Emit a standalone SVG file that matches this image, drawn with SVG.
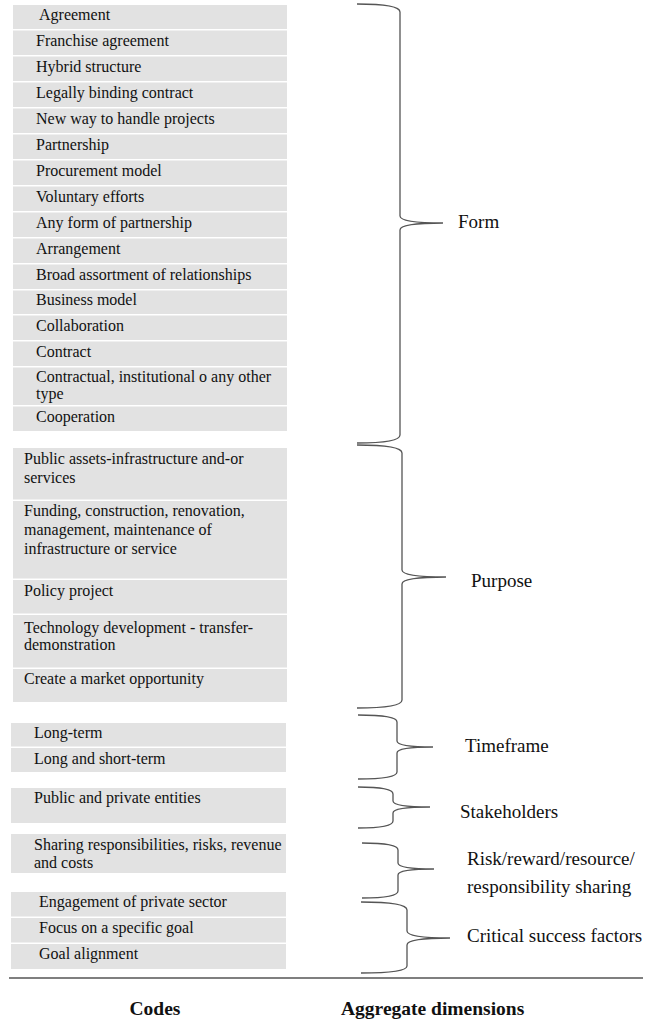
<svg xmlns="http://www.w3.org/2000/svg" width="662" height="1019" viewBox="0 0 662 1019">
<style>
.box{fill:#e2e2e2}
.t{font-family:"Liberation Serif","Times New Roman",serif;font-size:16px;fill:#111}
.lab{font-family:"Liberation Serif","Times New Roman",serif;font-size:19px;fill:#111}
.hd{font-family:"Liberation Serif","Times New Roman",serif;font-size:19.5px;font-weight:bold;fill:#111}
.br{fill:none;stroke:#555;stroke-width:1.3}
</style>
<rect width="662" height="1019" fill="#fff"/>
<g id="codes-form">
<g id="c1"><rect class="box" x="13" y="5" width="274" height="24"/><text class="t" x="39" y="20">Agreement</text></g>
<g id="c2"><rect class="box" x="13" y="30.5" width="274" height="24.5"/><text class="t" x="36" y="46">Franchise agreement</text></g>
<g id="c3"><rect class="box" x="13" y="56.5" width="274" height="24.5"/><text class="t" x="36" y="72">Hybrid structure</text></g>
<g id="c4"><rect class="box" x="13" y="82.5" width="274" height="24.5"/><text class="t" x="36" y="98">Legally binding contract</text></g>
<g id="c5"><rect class="box" x="13" y="108.5" width="274" height="24.5"/><text class="t" x="36" y="124">New way to handle projects</text></g>
<g id="c6"><rect class="box" x="13" y="134.5" width="274" height="24.5"/><text class="t" x="36" y="150">Partnership</text></g>
<g id="c7"><rect class="box" x="13" y="160.5" width="274" height="24.5"/><text class="t" x="36" y="176">Procurement model</text></g>
<g id="c8"><rect class="box" x="13" y="186.5" width="274" height="24.5"/><text class="t" x="36" y="202">Voluntary efforts</text></g>
<g id="c9"><rect class="box" x="13" y="212.5" width="274" height="24.5"/><text class="t" x="36" y="228">Any form of partnership</text></g>
<g id="c10"><rect class="box" x="13" y="238.5" width="274" height="24.5"/><text class="t" x="36" y="254">Arrangement</text></g>
<g id="c11"><rect class="box" x="13" y="264.5" width="274" height="24.5"/><text class="t" x="36" y="280">Broad assortment of relationships</text></g>
<g id="c12"><rect class="box" x="13" y="290.5" width="274" height="23.5"/><text class="t" x="36" y="305">Business model</text></g>
<g id="c13"><rect class="box" x="13" y="315.5" width="274" height="24.5"/><text class="t" x="36" y="331">Collaboration</text></g>
<g id="c14"><rect class="box" x="13" y="341.5" width="274" height="24.5"/><text class="t" x="36" y="357">Contract</text></g>
<g id="c15"><rect class="box" x="13" y="367.5" width="274" height="37.5"/><text class="t" x="36" y="382">Contractual, institutional o any other</text><text class="t" x="36" y="399">type</text></g>
<g id="c16"><rect class="box" x="13" y="406.5" width="274" height="24.5"/><text class="t" x="36" y="422">Cooperation</text></g>
</g>
<g id="codes-purpose">
<g id="p1"><rect class="box" x="13" y="448" width="274" height="51.5"/><text class="t" x="24" y="464">Public assets-infrastructure and-or</text><text class="t" x="24" y="483">services</text></g>
<g id="p2"><rect class="box" x="13" y="501" width="274" height="77.5"/><text class="t" x="24" y="516">Funding, construction, renovation,</text><text class="t" x="24" y="535">management, maintenance of</text><text class="t" x="24" y="554">infrastructure or service</text></g>
<g id="p3"><rect class="box" x="13" y="580" width="274" height="33.5"/><text class="t" x="24" y="596">Policy project</text></g>
<g id="p4"><rect class="box" x="13" y="615" width="274" height="52.5"/><text class="t" x="24" y="633">Technology development - transfer-</text><text class="t" x="24" y="650">demonstration</text></g>
<g id="p5"><rect class="box" x="13" y="669" width="274" height="33"/><text class="t" x="24" y="684">Create a market opportunity</text></g>
</g>
<g id="codes-timeframe">
<g id="t1"><rect class="box" x="11" y="723" width="275" height="23.5"/><text class="t" x="34" y="738">Long-term</text></g>
<g id="t2"><rect class="box" x="11" y="748" width="275" height="24"/><text class="t" x="34" y="764">Long and short-term</text></g>
</g>
<g id="codes-stakeholders">
<g id="s1"><rect class="box" x="11" y="788" width="275" height="35"/><text class="t" x="34" y="803">Public and private entities</text></g>
</g>
<g id="codes-risk">
<g id="r1"><rect class="box" x="11" y="834" width="275" height="39"/><text class="t" x="34" y="850">Sharing responsibilities, risks, revenue</text><text class="t" x="34" y="868">and costs</text></g>
</g>
<g id="codes-csf">
<g id="f1"><rect class="box" x="11" y="892" width="275" height="24.5"/><text class="t" x="39" y="907">Engagement of private sector</text></g>
<g id="f2"><rect class="box" x="11" y="918" width="275" height="24.5"/><text class="t" x="39" y="933">Focus on a specific goal</text></g>
<g id="f3"><rect class="box" x="11" y="944" width="275" height="25"/><text class="t" x="39" y="959">Goal alignment</text></g>
</g>
<g id="connectors">
<path class="br" d="M357,4 Q400,4 400,12 L400,216 Q400,223 443,223 Q400,223 400,230 L400,435 Q400,443 357,443"/>
<path class="br" d="M357,445 Q402,445 402,453 L402,570 Q402,577 446,577 Q402,577 402,584 L402,700 Q402,708 357,708"/>
<path class="br" d="M358,715 Q397,715 397,722 L397,741 Q397,747 433,747 Q397,747 397,753 L397,772 Q397,779 358,779"/>
<path class="br" d="M358,787 Q393,787 393,794 L393,801 Q393,807 430,807 Q393,807 393,813 L393,821 Q393,828 358,828"/>
<path class="br" d="M362,843 Q398,843 398,850 L398,863 Q398,869 434,869 Q398,869 398,875 L398,891 Q398,898 362,898"/>
<path class="br" d="M361,902 Q407,902 407,910 L407,931 Q407,938 450,938 Q407,938 407,945 L407,966 Q407,973 361,973"/>
</g>
<g id="dim-form"><text class="lab" x="458" y="228">Form</text></g>
<g id="dim-purpose"><text class="lab" x="471" y="587">Purpose</text></g>
<g id="dim-timeframe"><text class="lab" x="465" y="752">Timeframe</text></g>
<g id="dim-stakeholders"><text class="lab" x="460" y="818">Stakeholders</text></g>
<g id="dim-risk"><text class="lab" x="467" y="865">Risk/reward/resource/</text><text class="lab" x="467" y="893">responsibility sharing</text></g>
<g id="dim-csf"><text class="lab" x="467" y="942">Critical success factors</text></g>
<g id="footer">
<line x1="9" y1="978" x2="643" y2="978" stroke="#555" stroke-width="1.5"/>
<text class="hd" x="155" y="1015" text-anchor="middle">Codes</text>
<text class="hd" x="341" y="1015">Aggregate dimensions</text>
</g>
</svg>
